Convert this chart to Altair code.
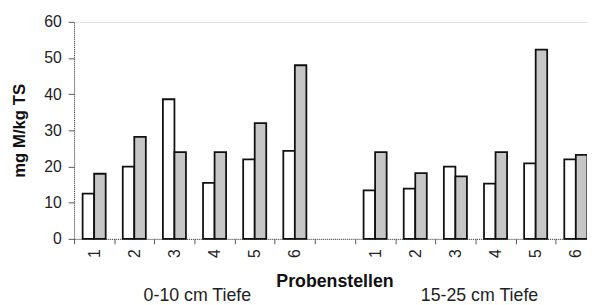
import altair as alt
import pandas as pd

# categories on the x axis (two depth groups, one empty slot between them)
cat_keys = ["a1", "a2", "a3", "a4", "a5", "a6", "gap", "b1", "b2", "b3", "b4", "b5", "b6"]
cat_labels = ["1", "2", "3", "4", "5", "6", "", "1", "2", "3", "4", "5", "6"]

# series values (mg M/kg TS)
series_names = ["S1", "S2"]
white_vals = [12.5, 20, 38.6, 15.5, 22, 24.3, None, 13.4, 13.9, 20, 15.3, 20.9, 22]
gray_vals = [18, 28.2, 24, 24, 32, 48, None, 24, 18.2, 17.3, 24, 52.3, 23.2]

y_ticks = [0, 10, 20, 30, 40, 50, 60]
group_texts = ["0-10 cm Tiefe", "15-25 cm Tiefe"]

rows = []
for k, w, g in zip(cat_keys, white_vals, gray_vals):
    if w is not None:
        rows.append({"cat": k, "series": series_names[0], "value": w})
    if g is not None:
        rows.append({"cat": k, "series": series_names[1], "value": g})
df = pd.DataFrame(rows)

label_map = "{" + ",".join(f"'{k}':'{l}'" for k, l in zip(cat_keys, cat_labels)) + "}"

FONT = "Liberation Sans"

x_enc = alt.X(
    "cat:N",
    sort=cat_keys,
    scale=alt.Scale(domain=cat_keys, paddingInner=0, paddingOuter=0),
    axis=alt.Axis(
        title="Probenstellen",
        titleFont=FONT, titleFontSize=18, titleFontWeight="bold", titleColor="#111",
        titleX=264, titleY=48, titleAlign="center", titleBaseline="alphabetic",
        labelExpr=f"{label_map}[datum.value]",
        labelAngle=270, labelFont=FONT, labelFontSize=16, labelColor="#222",
        labelPadding=5,
        tickBand="extent", tickSize=5, tickColor="#555", tickWidth=1,
        domainColor="#444", domainWidth=1, domainDash=[1, 1],
        grid=False,
    ),
)

bars = alt.Chart(df).mark_bar(stroke="#111", strokeWidth=1.8).encode(
    x=x_enc,
    xOffset=alt.XOffset("series:N", sort=series_names,
                        scale=alt.Scale(domain=series_names, paddingInner=0, paddingOuter=0.74)),
    y=alt.Y(
        "value:Q",
        scale=alt.Scale(domain=[0, 60], nice=False),
        axis=alt.Axis(
            values=y_ticks,
            labelOverlap=False,
            title="mg M/kg TS",
            titleFont=FONT, titleFontSize=17, titleFontWeight="bold", titleColor="#111",
            titleAngle=270, titleX=-55, titleY=110, titleAlign="center", titleBaseline="middle",
            labelFont=FONT, labelFontSize=16, labelColor="#222", labelPadding=7,
            tickSize=6, tickColor="#555",
            domainColor="#444", domainDash=[1, 1],
            grid=False,
        ),
    ),
    fill=alt.Fill("series:N", sort=series_names,
                  scale=alt.Scale(domain=series_names, range=["#ffffff", "#c6c6c6"]),
                  legend=None),
)

t1 = alt.Chart(pd.DataFrame({"t": [group_texts[0]]})).mark_text(
    font=FONT, fontSize=18, color="#222", align="center", baseline="alphabetic"
).encode(text="t:N", x=alt.value(125), y=alt.value(283))

t2 = alt.Chart(pd.DataFrame({"t": [group_texts[1]]})).mark_text(
    font=FONT, fontSize=18, color="#222", align="center", baseline="alphabetic"
).encode(text="t:N", x=alt.value(411), y=alt.value(283))

chart = alt.layer(bars, t1, t2).properties(
    width=529, height=220,
    autosize=alt.AutoSizeParams(type="none"),
    padding={"left": 67, "top": 12, "right": -9, "bottom": 65},
).configure_view(stroke="#666", strokeWidth=1, strokeDash=[1, 1]).configure(background="white")

chart.save("out.html", embed_options={"renderer": "svg", "actions": False})
